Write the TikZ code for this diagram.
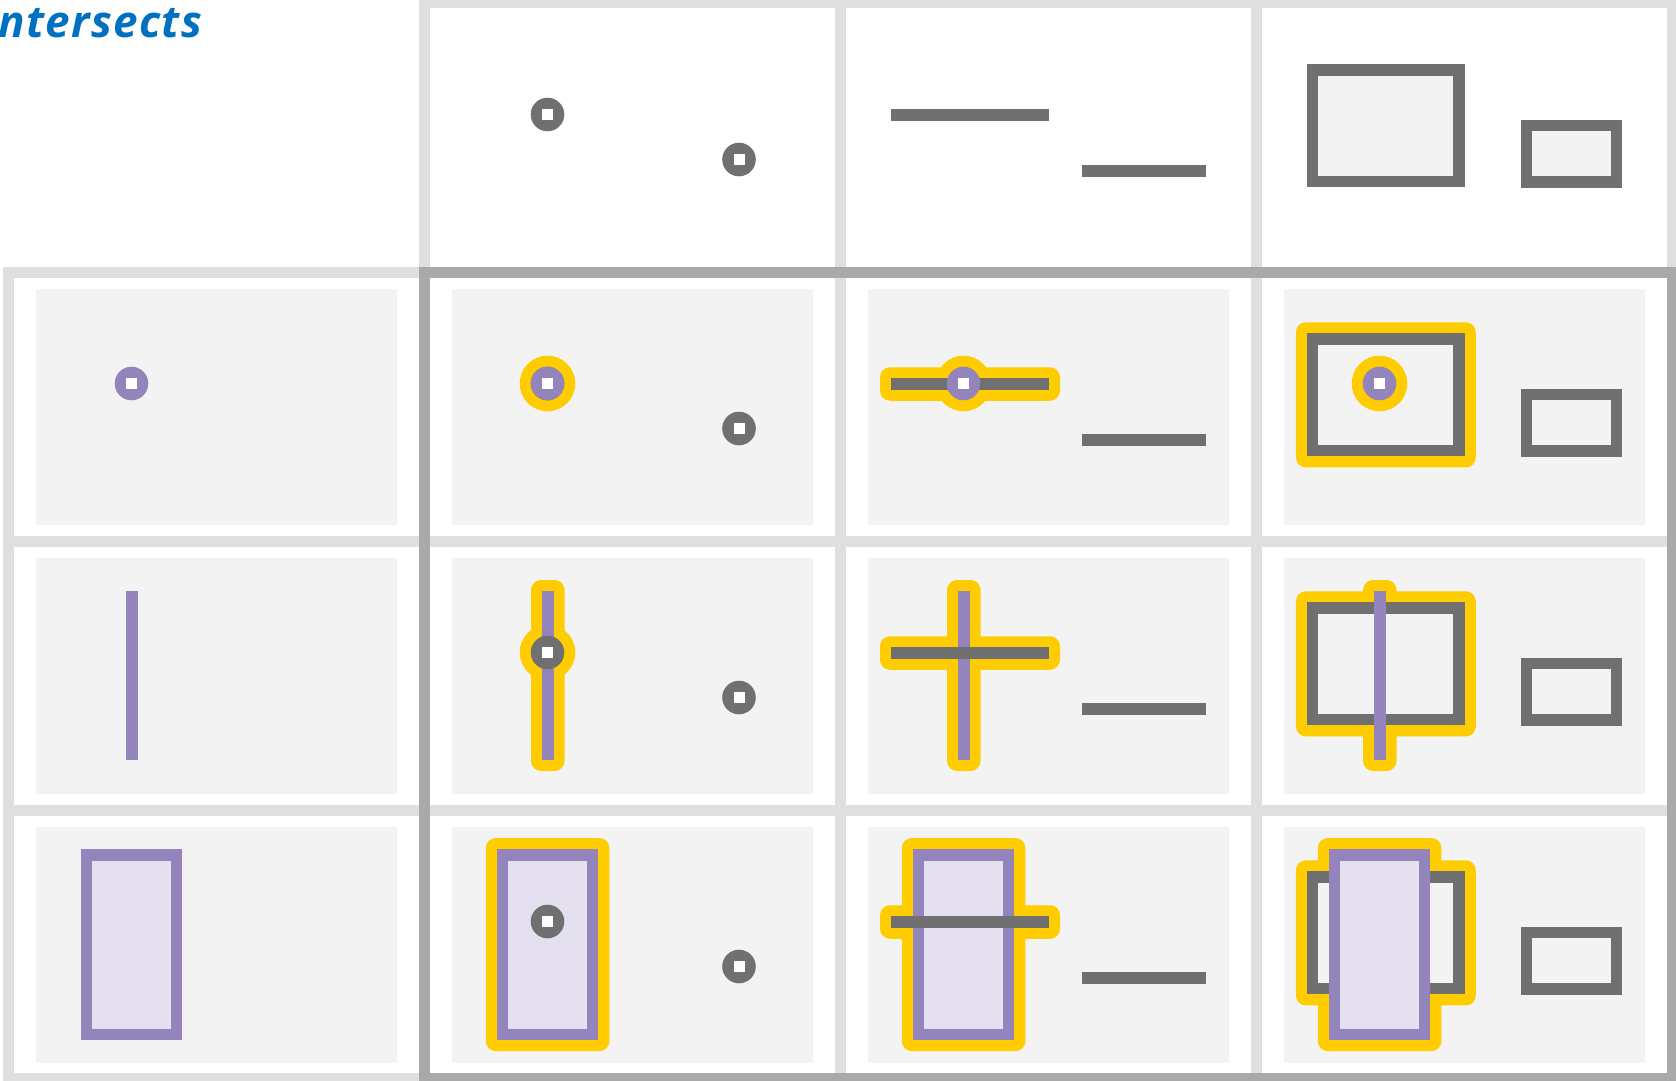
\documentclass[tikz,border=0pt]{standalone}
\usepackage{fontspec}
\newfontfamily\titlefont[LetterSpace=3]{Open Sans}
\definecolor{dgrey}{HTML}{707070}
\definecolor{qpur}{HTML}{9384BC}
\definecolor{qfill}{HTML}{E4E0EF}
\definecolor{panel}{HTML}{F3F3F3}
\definecolor{lgrid}{HTML}{DFDFDF}
\definecolor{dgrid}{HTML}{A9A9A9}
\definecolor{hiyel}{HTML}{FFCC00}
\definecolor{titleblue}{HTML}{0070C0}
\tikzset{
  gridlight/.style={draw=lgrid,line width=5.5pt},
  griddark/.style={draw=dgrid,line width=5.5pt},
  shapeline/.style={line width=5.75pt},
  hibox/.style={fill=hiyel,rounded corners=5pt},
}
% primitive shapes, coordinates relative to the cell origin
\newcommand\DotAt[3]{\fill[#1] (#2,#3) circle[radius=16.8];
  \fill[white] ({#2-5.5},{#3-5.5}) rectangle ({#2+5.5},{#3+5.5});}
\newcommand\QDot{\DotAt{qpur}{123.5}{111.5}}
\newcommand\DDotA{\DotAt{dgrey}{123.5}{111.5}}
\newcommand\DDotB{\DotAt{dgrey}{315}{156.5}}
\newcommand\QVLine{\draw[qpur,shapeline] (123.8,50) -- (123.8,219);}
\newcommand\DLineA{\draw[dgrey,shapeline] (51,112) -- (209,112);}
\newcommand\DLineB{\draw[dgrey,shapeline] (242,168) -- (366,168);}
\newcommand\QRect{\draw[qpur,fill=qfill,shapeline] (78.5,44.8) rectangle (168.7,224.3);}
\newcommand\DRectA{\draw[dgrey,fill=panel,shapeline] (56.7,67) rectangle (203,178.7);}
\newcommand\DRectB{\draw[dgrey,fill=panel,shapeline] (270.7,122.7) rectangle (360.7,179);}
% highlights
\newcommand\HDot{\fill[hiyel] (123.5,111.5) circle[radius=27.8];}
\newcommand\HVLine{\fill[hibox] (107.05,39) rectangle (140.55,230);}
\newcommand\HLineA{\fill[hibox] (40,95.25) rectangle (220,128.75);}
\newcommand\HRectQ{\fill[hibox] (61.75,28.05) rectangle (185.45,241.05);}
\newcommand\HRectA{\fill[hibox] (39.95,50.25) rectangle (219.75,195.45);}
\newcommand\Panel{\fill[panel] (28,16.5) rectangle (389,252.5);}
\begin{document}
\begin{tikzpicture}[x=0.5pt,y=-0.5pt]
\useasboundingbox (0,0) rectangle (1676,1081);
\fill[white] (0,0) rectangle (1676,1081);
% title
\node[anchor=base west,inner sep=0pt,text=titleblue,
      font=\titlefont\bfseries\itshape\fontsize{22}{26}\selectfont] (title) at (-2,37.5) {ntersects};
% light grid
\draw[gridlight] (424,3) rectangle (1672,272);
\draw[gridlight] (8,272) rectangle (424,1078.5);
\draw[gridlight] (840,3) -- (840,1078.5);
\draw[gridlight] (1256,3) -- (1256,1078.5);
\draw[gridlight] (8,541) -- (1672,541);
\draw[gridlight] (8,810) -- (1672,810);
% header row
\begin{scope}[shift={(424,3)}] \DDotA \DDotB \end{scope}
\begin{scope}[shift={(840,3)}] \DLineA \DLineB \end{scope}
\begin{scope}[shift={(1256,3)}] \DRectA \DRectB \end{scope}
% row 1: point
\begin{scope}[shift={(8,272)}] \Panel \QDot \end{scope}
\begin{scope}[shift={(424,272)}] \Panel \HDot \DDotA \QDot \DDotB \end{scope}
\begin{scope}[shift={(840,272)}] \Panel \HLineA \HDot \DLineA \DLineB \QDot \end{scope}
\begin{scope}[shift={(1256,272)}] \Panel \HRectA \DRectA \DRectB \HDot \QDot \end{scope}
% row 2: line
\begin{scope}[shift={(8,541)}] \Panel \QVLine \end{scope}
\begin{scope}[shift={(424,541)}] \Panel \HVLine \HDot \QVLine \DDotA \DDotB \end{scope}
\begin{scope}[shift={(840,541)}] \Panel \HVLine \HLineA \QVLine \DLineA \DLineB \end{scope}
\begin{scope}[shift={(1256,541)}] \Panel \HVLine \HRectA \DRectA \DRectB \QVLine \end{scope}
% row 3: polygon
\begin{scope}[shift={(8,810)}] \Panel \QRect \end{scope}
\begin{scope}[shift={(424,810)}] \Panel \HRectQ \HDot \QRect \DDotA \DDotB \end{scope}
\begin{scope}[shift={(840,810)}] \Panel \HRectQ \HLineA \QRect \DLineA \DLineB \end{scope}
\begin{scope}[shift={(1256,810)}] \Panel \HRectQ \HRectA \DRectA \DRectB \QRect \end{scope}
% dark frame
\draw[griddark] (424,272) rectangle (1672,1078.5);
\end{tikzpicture}
\end{document}
